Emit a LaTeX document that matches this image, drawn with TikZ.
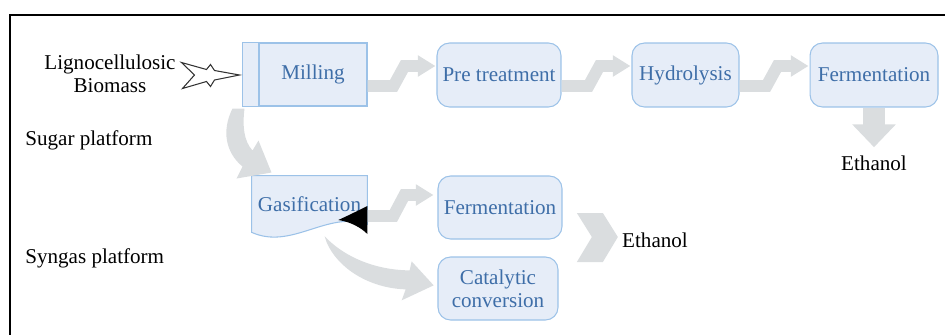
\documentclass[tikz,border=0pt]{standalone}
\usepackage{fontspec}
\setmainfont{LiberationSerif}[Extension=.ttf, UprightFont=*-Regular]
\usetikzlibrary{arrows.meta,calc,backgrounds}
\definecolor{boxfill}{HTML}{E6EDF8}
\definecolor{boxline}{HTML}{9CC2E8}
\definecolor{boxtext}{HTML}{3E6EA8}
\definecolor{flowgray}{HTML}{DADDDF}
\begin{document}
\begin{tikzpicture}[x=0.02cm, y=-0.02cm,
    every node/.style={font=\fontsize{12}{13}\selectfont, inner sep=0pt},
    plainbox/.style={draw=boxline, fill=boxfill, text=boxtext, line width=0.6pt, minimum height=1.26cm},
    stepbox/.style={plainbox, rounded corners=0.25cm},
    flow/.style={draw=flowgray, line width=6.8pt, line join=miter, -{Triangle[width=11.5pt,length=10pt]}}]
          \useasboundingbox (0,0) rectangle (945,335);
          \draw[line width=1.2pt] (945,15) -- (10,15) -- (10,335);

          \node [plainbox, minimum width=2.16cm] (milling) at (313,74.5) {Milling};
          \node [stepbox, minimum width=2.48cm, minimum height=1.28cm] (pretreat) at (499,75) {Pre treatment};
          \node [stepbox, minimum width=2.14cm, minimum height=1.28cm] (hydro) at (685.5,75) {Hydrolysis};
          \node [stepbox, minimum width=2.56cm, minimum height=1.28cm] (fermtop) at (874,75) {Fermentation};
          \node [text=boxtext, minimum width=2.3cm, minimum height=1.12cm] (gasif) at (309.5,204) {Gasification};
          \node [stepbox, minimum width=2.48cm] (fermmid) at (500,207.5) {Fermentation};
          \node [stepbox, minimum width=2.4cm, align=center] (catal) at (498,288.5) {Catalytic\\conversion};

          \node [align=center] (biomass) at (110,74) {Lignocellulosic\\Biomass};
          \node [anchor=west] (sugar) at (25,140) {Sugar platform};
          \node [anchor=west] (syngas) at (25,258) {Syngas platform};
          \node [] (ethtop) at (874,163) {Ethanol};
          \node [] (ethmid) at (655,240) {Ethanol};

          % side strip of the milling box and the wavy gasification box
          \filldraw[plainbox] (milling.north west) -- ++(-16,0) -- ($(milling.south west)+(-16,0)$) -- (milling.south west);
          \begin{scope}[on background layer]
            \filldraw[plainbox] (gasif.north west) -- (gasif.north east) -- ($(gasif.south east)+(0,-8)$)
              .. controls ($(gasif.south east)+(-40,-22)$) and ($(gasif.south west)+(40,18)$) .. (gasif.south west) -- cycle;
          \end{scope}

          \filldraw[fill=white, draw=black!80, line width=0.6pt, shift={(milling.west)}]
            (-77,-12) -- (-52,-5) -- (-48,-10) -- (-44,-4) -- (-19,0.5) -- (-44,5.5)
            -- (-48,12) -- (-52,7) -- (-76,14) -- (-64,0.5) -- cycle;

          \draw[flow] ($(milling.east)+(0,11.5)$) -- ++(26,0) -- ($(pretreat.west)+(-32,-9)$) -- ($(pretreat.west)+(-1,-9)$);
          \draw[flow] ($(pretreat.east)+(0,11)$) -- ++(27,0) -- ($(hydro.west)+(-32,-9)$) -- ($(hydro.west)+(-1,-9)$);
          \draw[flow] ($(hydro.east)+(0,11)$) -- ++(27,0) -- ($(fermtop.west)+(-32,-9)$) -- ($(fermtop.west)+(-1,-9)$);
          \draw[flow] ($(gasif.east)+(0,12)$) -- ++(26,0) -- ($(fermmid.west)+(-33,-12.5)$) -- ($(fermmid.west)+(-4,-12.5)$);
          \draw[flow, line width=12.5pt, -{Triangle[width=24pt,length=13pt]}] (fermtop.south) -- ($(ethtop.north)+(0,-8)$);

          \fill[flowgray, shift={(milling.south west)}] (-26,2) .. controls (-37,24) and (-33,46) .. (-16,60)
            -- (-22,72) -- (13,66) -- (0,34) -- (-6,44) .. controls (-15,34) and (-16,19) .. (-14,2) -- cycle;
          \fill[flowgray, shift={(gasif.south west)}] (73,4) .. controls (98,30) and (133,38) .. (158,38)
            -- (160,29) -- (182,53) -- (150,68) -- (154,57) .. controls (118,56) and (86,36) .. (75,10) -- cycle;
          \fill[flowgray, shift={(ethmid.west)}] (-45,-27) -- (-19,-27) -- (-4,-3) -- (-19,22) -- (-45,22) -- (-30,-3) -- cycle;

          \fill[black, shift={(gasif.east)}] (-29,16) .. controls (-18,11) and (-8,6) .. (0,2)
            -- (0,30) .. controls (-6,24) and (-16,18) .. cycle;
        \end{tikzpicture}
\end{document}
